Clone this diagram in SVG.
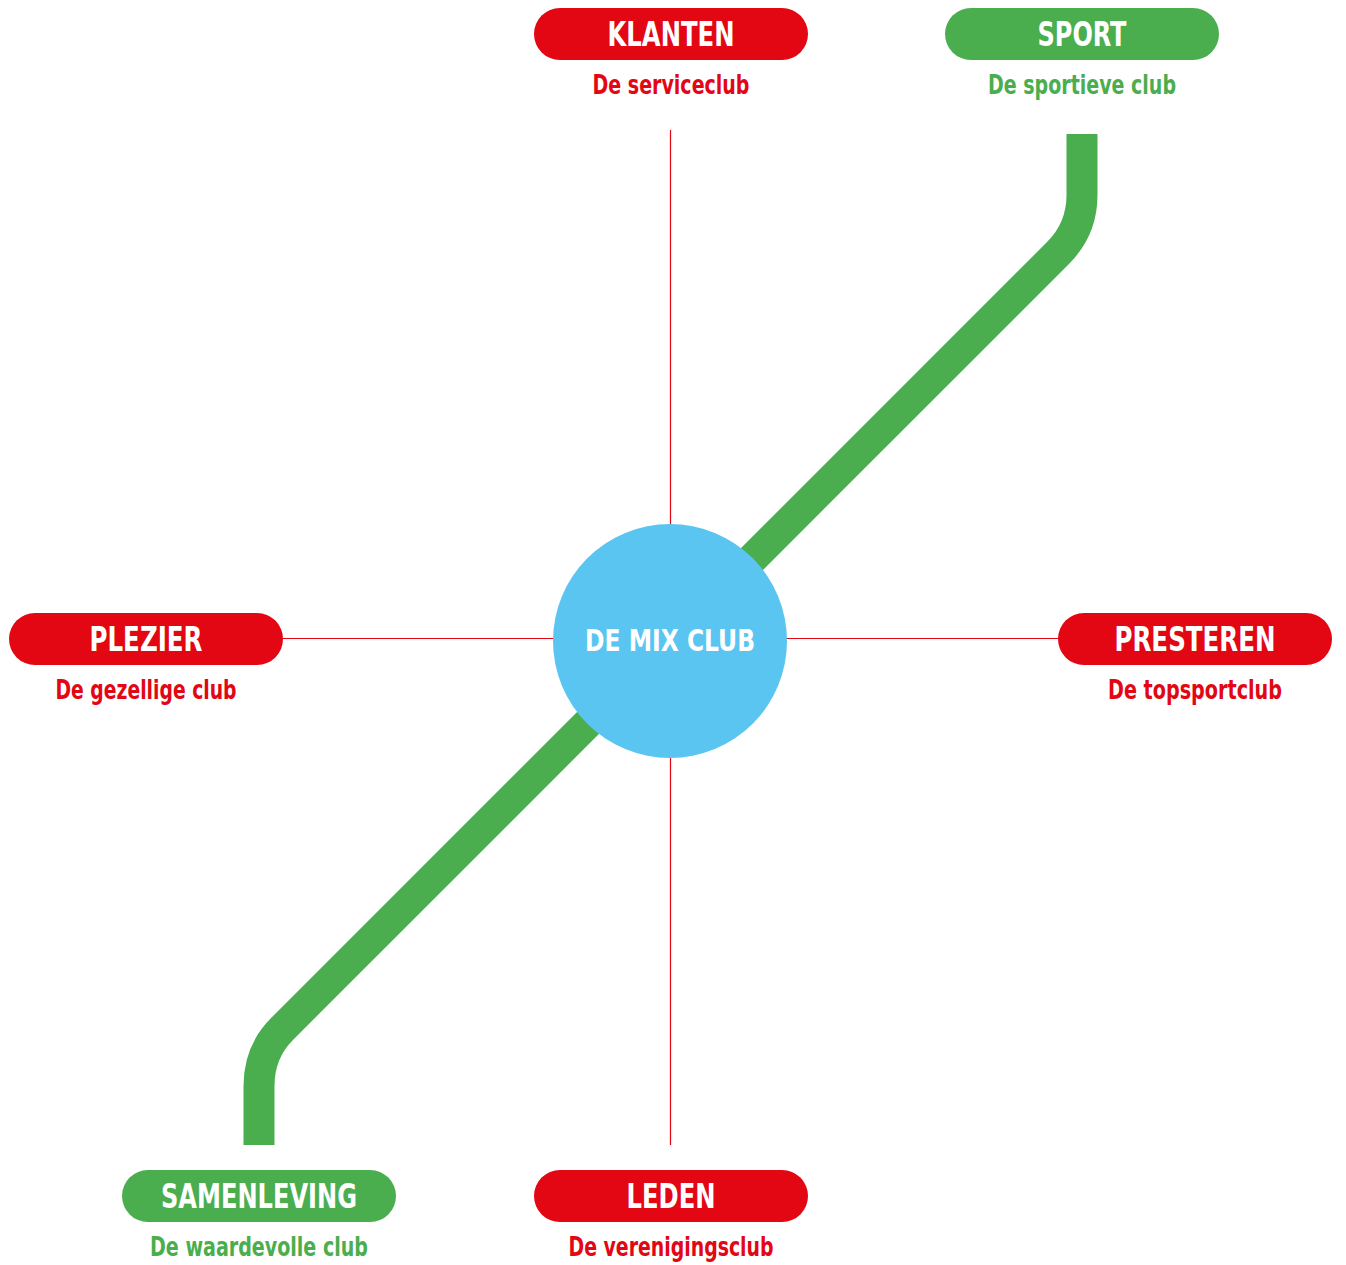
<svg xmlns="http://www.w3.org/2000/svg" width="1346" height="1265" viewBox="0 0 1346 1265">
<style>
.red{fill:#E30613}
.green{fill:#4BAE4E}
.pilltxt{font-family:"DejaVu Sans Condensed","Liberation Sans Narrow","Liberation Sans",sans-serif;font-weight:bold;font-size:33px;fill:#FFFFFF;text-anchor:middle}
.sub{font-family:"DejaVu Sans Condensed","Liberation Sans Narrow","Liberation Sans",sans-serif;font-weight:bold;font-size:26px;text-anchor:middle}
.subr{fill:#E30613}
.subg{fill:#4BAE4E}
.thin{stroke:#E30613;stroke-width:1.2;fill:none}
.thick{stroke:#4BAE4E;stroke-width:31;fill:none}
</style>
<rect width="1346" height="1265" fill="#FFFFFF"/>
<g id="connectors">
<line class="thin" x1="670.5" y1="130" x2="670.5" y2="1145"/>
<line class="thin" x1="283" y1="638.5" x2="1058" y2="638.5"/>
<path class="thick" d="M1082,134 L1082,195 Q1082,229 1058,253 L282,1029 Q259,1052 259,1086 L259,1145"/>
</g>
<g id="center">
<circle cx="670" cy="641" r="117" fill="#5BC5F2"/>
<text class="pilltxt" x="670" y="651" style="font-size:31px" textLength="170" lengthAdjust="spacingAndGlyphs">DE MIX CLUB</text>
</g>
<g id="klanten">
<rect class="red" x="534" y="8" width="274" height="52" rx="26"/>
<text class="pilltxt" x="671" y="46" textLength="127" lengthAdjust="spacingAndGlyphs">KLANTEN</text>
<text class="sub subr" x="671" y="94" textLength="157" lengthAdjust="spacingAndGlyphs">De serviceclub</text>
</g>
<g id="sport">
<rect class="green" x="945" y="8" width="274" height="52" rx="26"/>
<text class="pilltxt" x="1082" y="46" textLength="89" lengthAdjust="spacingAndGlyphs">SPORT</text>
<text class="sub subg" x="1082" y="94" textLength="188" lengthAdjust="spacingAndGlyphs">De sportieve club</text>
</g>
<g id="plezier">
<rect class="red" x="9" y="613" width="274" height="52" rx="26"/>
<text class="pilltxt" x="146" y="651" textLength="113" lengthAdjust="spacingAndGlyphs">PLEZIER</text>
<text class="sub subr" x="146" y="699" textLength="181" lengthAdjust="spacingAndGlyphs">De gezellige club</text>
</g>
<g id="presteren">
<rect class="red" x="1058" y="613" width="274" height="52" rx="26"/>
<text class="pilltxt" x="1195" y="651" textLength="161" lengthAdjust="spacingAndGlyphs">PRESTEREN</text>
<text class="sub subr" x="1195" y="699" textLength="174" lengthAdjust="spacingAndGlyphs">De topsportclub</text>
</g>
<g id="samenleving">
<rect class="green" x="122" y="1170" width="274" height="52" rx="26"/>
<text class="pilltxt" x="259" y="1208" textLength="196" lengthAdjust="spacingAndGlyphs">SAMENLEVING</text>
<text class="sub subg" x="259" y="1256" textLength="218" lengthAdjust="spacingAndGlyphs">De waardevolle club</text>
</g>
<g id="leden">
<rect class="red" x="534" y="1170" width="274" height="52" rx="26"/>
<text class="pilltxt" x="671" y="1208" textLength="89" lengthAdjust="spacingAndGlyphs">LEDEN</text>
<text class="sub subr" x="671" y="1256" textLength="205" lengthAdjust="spacingAndGlyphs">De verenigingsclub</text>
</g>
</svg>
